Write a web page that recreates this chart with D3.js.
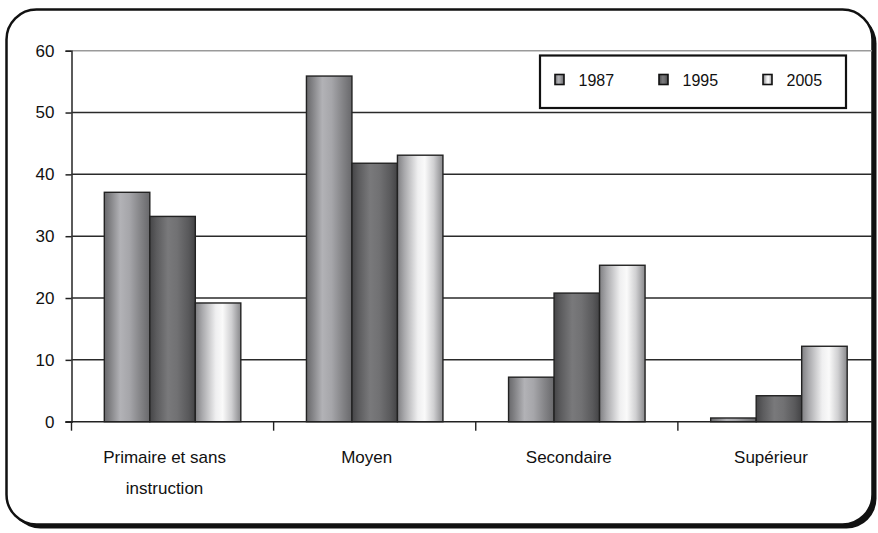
<!DOCTYPE html>
<html>
<head>
<meta charset="utf-8">
<script src="https://cdn.jsdelivr.net/npm/d3@7"></script>
<style>
  html, body { margin: 0; padding: 0; background: #ffffff; }
  svg { display: block; font-family: "Liberation Sans", Arial, sans-serif; }
</style>
</head>
<body>
<svg id="chart" width="878" height="533"></svg>
<script>
// Education level distribution (%) by survey year
const categories = ["Primaire et sans instruction", "Moyen", "Secondaire", "Supérieur"];
const categoryLines = [["Primaire et sans", "instruction"], ["Moyen"], ["Secondaire"], ["Supérieur"]];
const seriesNames = ["1987", "1995", "2005"];
const values1987 = [37.1, 55.9, 7.2, 0.6];
const values1995 = [33.2, 41.8, 20.8, 4.2];
const values2005 = [19.2, 43.1, 25.3, 12.2];
const yTickValues = [0, 10, 20, 30, 40, 50, 60];

const seriesValues = [values1987, values1995, values2005];

const svg = d3.select("#chart");

// cylinder-like shading for each series
const gradStops = {
  "1987": [[0, "#68686b"], [0.12, "#808083"], [0.35, "#b2b2b6"], [0.55, "#a6a6aa"], [0.8, "#838386"], [1, "#68686b"]],
  "1995": [[0, "#454547"], [0.15, "#5c5c5e"], [0.4, "#79797b"], [0.6, "#717173"], [0.85, "#59595b"], [1, "#434345"]],
  "2005": [[0, "#7f7f82"], [0.15, "#a8a8ab"], [0.45, "#efeff0"], [0.6, "#fafafa"], [0.8, "#cfcfd1"], [1, "#88888b"]]
};
const defs = svg.append("defs");
seriesNames.forEach((s, i) => {
  const g = defs.append("linearGradient").attr("id", "grad" + i)
    .attr("x1", "0%").attr("x2", "100%").attr("y1", "0%").attr("y2", "0%");
  gradStops[s].forEach(([o, c]) => g.append("stop").attr("offset", o).attr("stop-color", c));
});

// rounded frame with drop shadow
svg.append("rect").attr("x", 10.5).attr("y", 13.5).attr("width", 866).attr("height", 515)
  .attr("rx", 30).attr("fill", "#111");
svg.append("rect").attr("x", 6.5).attr("y", 9.5).attr("width", 866).attr("height", 515)
  .attr("rx", 30).attr("fill", "#ffffff").attr("stroke", "#111").attr("stroke-width", 2.5);

// scales
const plotLeft = 71.5, plotRight = 880, plotTop = 50.7, plotBottom = 421.7;
const x0 = d3.scaleBand().domain(categories).range([plotLeft, plotRight]).paddingInner(0).paddingOuter(0);
const x1 = d3.scaleBand().domain(seriesNames)
  .range([(x0.bandwidth() - 136.5) / 2, (x0.bandwidth() + 136.5) / 2]).padding(0);
const y = d3.scaleLinear().domain([0, 60]).range([plotBottom, plotTop]);

const gridRight = 872;

// gridlines
svg.append("g").selectAll("line").data(yTickValues.filter(v => v > 0)).join("line")
  .attr("x1", plotLeft).attr("x2", gridRight)
  .attr("y1", d => y(d)).attr("y2", d => y(d))
  .attr("stroke", d => d === 60 ? "#9a9a9a" : "#2a2a2a")
  .attr("stroke-width", d => d === 60 ? 1.6 : 1.5);

// y axis
const yAxis = d3.axisLeft(y).tickValues(yTickValues).tickSize(6).tickPadding(11).tickFormat(d3.format("d"));
const gy = svg.append("g").attr("transform", `translate(${plotLeft},0)`).call(yAxis);
gy.select(".domain").attr("stroke", "#333").attr("stroke-width", 1.6);
gy.selectAll(".tick line").attr("stroke", "#222").attr("stroke-width", 1.5);
gy.selectAll(".tick text").attr("font-size", 17).attr("fill", "#111")
  .attr("font-family", "'Liberation Sans', Arial, sans-serif");

// bars
const groups = svg.append("g").selectAll("g").data(categories).join("g")
  .attr("transform", d => `translate(${x0(d)},0)`);
groups.selectAll("rect")
  .data((d, ci) => seriesNames.map((s, si) => ({ s, si, v: seriesValues[si][ci] })))
  .join("rect")
  .attr("x", d => x1(d.s))
  .attr("width", x1.bandwidth())
  .attr("y", d => y(d.v))
  .attr("height", d => y(0) - y(d.v))
  .attr("fill", d => `url(#grad${d.si})`)
  .attr("stroke", "#222").attr("stroke-width", 1.4);

// x axis baseline with category ticks
svg.append("line").attr("x1", plotLeft - 6).attr("x2", gridRight)
  .attr("y1", y(0)).attr("y2", y(0)).attr("stroke", "#222").attr("stroke-width", 1.6);
const tickXs = categories.map(c => x0(c));
svg.append("g").selectAll("line").data(tickXs).join("line")
  .attr("x1", d => d).attr("x2", d => d)
  .attr("y1", y(0)).attr("y2", y(0) + 9)
  .attr("stroke", "#222").attr("stroke-width", 1.4);

// category labels
const labels = svg.append("g").selectAll("text").data(categories).join("text")
  .attr("text-anchor", "middle")
  .attr("font-size", 17).attr("fill", "#111")
  .attr("transform", d => `translate(${x0(d) + x0.bandwidth() / 2 - 8},0)`);
labels.each(function (d, i) {
  const t = d3.select(this);
  categoryLines[i].forEach((line, li) => {
    t.append("tspan").attr("x", 0).attr("y", 462.5 + li * 31.5).text(line);
  });
});

// legend
const legend = svg.append("g").attr("transform", "translate(540,55.5)");
legend.append("rect").attr("width", 306).attr("height", 52.5)
  .attr("fill", "#fff").attr("stroke", "#111").attr("stroke-width", 2.2);
const li = legend.selectAll("g").data(seriesNames).join("g")
  .attr("transform", (d, i) => `translate(${15 + i * 104},0)`);
li.append("rect").attr("x", 0).attr("y", 19).attr("width", 9).attr("height", 10)
  .attr("fill", (d, i) => `url(#grad${i})`).attr("stroke", "#111").attr("stroke-width", 1.6);
li.append("text").attr("x", 23.5).attr("y", 30.5).attr("font-size", 16).attr("fill", "#111").text(d => d);
</script>
</body>
</html>
